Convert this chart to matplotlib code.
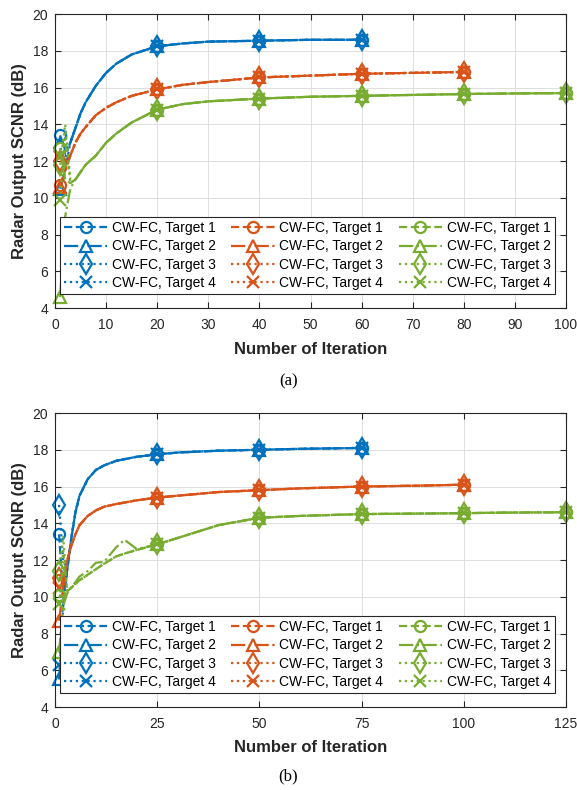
import matplotlib

matplotlib.use("Agg")

import matplotlib.pyplot as plt

BLUE = "#0072BD"
ORANGE = "#D95319"
GREEN = "#77AC30"

LABELS = ["CW-FC, Target 1", "CW-FC, Target 2", "CW-FC, Target 3", "CW-FC, Target 4"]

# ---- panel (a): shared curve per colour (None = taken from the per-target head)
A_X_BLUE = [1, 2, 3, 4, 5, 6, 8, 10, 12, 15, 20, 25, 30, 40, 50, 60]
A_BLUE_BASE = [None, None, 13.0, 13.8, 14.6, 15.2, 16.1, 16.8, 17.3, 17.8, 18.25, 18.4, 18.5, 18.55, 18.6, 18.6]
A_BLUE_HEAD = [[13.4, 12.6], [10.5, 11.5], [12.7, 12.4], [12.3, 12.2]]

A_X_ORANGE = [1, 2, 3, 4, 5, 6, 8, 10, 12, 15, 20, 25, 30, 40, 50, 60, 70, 80]
A_ORANGE_BASE = [None, None, 12.3, 13.0, 13.5, 13.85, 14.5, 14.9, 15.2, 15.55, 15.9, 16.15, 16.3, 16.55,
                 16.65, 16.75, 16.8, 16.85]
A_ORANGE_HEAD = [[10.7, 11.5], [10.6, 11.4], [12.0, 11.9], [12.2, 12.0]]

A_X_GREEN = [1, 2, 3, 4, 5, 6, 8, 10, 12, 15, 20, 25, 30, 40, 50, 60, 70, 80, 90, 100]
A_GREEN_BASE = [None, None, None, 11.0, 11.4, 11.8, 12.3, 13.0, 13.5, 14.1, 14.8, 15.1, 15.25, 15.4, 15.5,
                15.55, 15.6, 15.65, 15.68, 15.7]
A_GREEN_HEAD = [[12.7, 11.0, 10.8], [4.6, 9.0, 10.5], [11.8, 14.0, 11.0], [9.9, 13.5, 10.8]]

A_MARK_X = [1, 20, 40, 60, 80, 100]
A_XTICKS = [0, 10, 20, 30, 40, 50, 60, 70, 80, 90, 100]

# ---- panel (b)
B_X_BLUE = [1, 2, 3, 4, 5, 6, 8, 10, 12, 15, 20, 25, 30, 40, 50, 60, 75]
B_BLUE_BASE = [None, None, 11.5, 13.2, 14.6, 15.5, 16.4, 16.9, 17.15, 17.4, 17.62, 17.75, 17.85, 17.95,
               18.0, 18.05, 18.1]
B_BLUE_HEAD = [[13.4, 10.0], [5.5, 9.5], [15.0, 12.0], [6.3, 9.8]]

B_X_ORANGE = [1, 2, 3, 4, 5, 6, 8, 10, 12, 15, 20, 25, 30, 40, 50, 60, 75, 90, 100]
B_ORANGE_BASE = [None, None, 12.0, 12.8, 13.4, 13.9, 14.4, 14.7, 14.9, 15.05, 15.25, 15.4, 15.5, 15.7,
                 15.8, 15.9, 16.0, 16.05, 16.1]
B_ORANGE_HEAD = [[10.9, 11.0], [8.7, 10.5], [11.0, 11.2], [10.5, 11.0]]

B_X_GREEN = [1, 2, 3, 4, 5, 6, 8, 10, 12, 15, 17, 20, 25, 30, 40, 50, 60, 75, 90, 100, 110, 125]
B_GREEN_BASE = [None, None, 10.3, 10.5, 10.7, 10.9, 11.2, 11.5, 11.8, 12.2, 12.35, 12.55, 12.85, 13.2,
                13.9, 14.3, 14.4, 14.5, 14.53, 14.55, 14.58, 14.6]
B_GREEN_HEAD = [[10.1, 10.0], [7.0, 9.5, 10.2, 10.5, 10.8, 11.1, 11.4, 11.85, 11.9, 12.7, 13.1, 12.6],
                [11.4, 13.3], [9.6, 12.5]]

B_MARK_X = [1, 25, 50, 75, 100, 125]
B_XTICKS = [0, 25, 50, 75, 100, 125]

YTICKS = [4, 6, 8, 10, 12, 14, 16, 18, 20]

STYLES = [
    {"linestyle": "--", "marker": "o", "markersize": 8},
    {"linestyle": "-.", "marker": "^", "markersize": 9},
    {"linestyle": ":", "marker": "d", "markersize": 10},
    {"linestyle": ":", "marker": "x", "markersize": 8},
]

plt.rcParams["font.family"] = ["Liberation Sans", "DejaVu Sans"]


def draw_panel(ax, groups, marks, xticks, xmax):
    handles = []
    for color, xs, base, heads in groups:
        idx = [i for i, x in enumerate(xs) if x in marks]
        for style, head in zip(STYLES, heads):
            ys = list(head) + base[len(head):]
            (line,) = ax.plot(
                xs, ys, color=color, linewidth=1.6, markerfacecolor="none",
                markeredgewidth=1.6, markevery=idx, clip_on=False, **style,
            )
            handles.append(line)
    ax.set_xlim(0, xmax)
    ax.set_ylim(4, 20)
    ax.set_xticks(xticks)
    ax.set_yticks(YTICKS)
    ax.grid(True, color="#dedede", linewidth=0.7)
    ax.set_axisbelow(True)
    ax.tick_params(direction="in", length=4, width=0.8, top=True, right=True,
                   labelsize=10, colors="#262626")
    ax.tick_params(axis="x", pad=7)
    ax.tick_params(axis="y", pad=5)
    for sp in ax.spines.values():
        sp.set_color("#262626")
        sp.set_linewidth(0.8)
    ax.set_xlabel("Number of Iteration", fontsize=12, fontweight="bold", color="#262626", labelpad=7)
    ax.set_ylabel("Radar Output SCNR (dB)", fontsize=12, fontweight="bold", color="#262626", labelpad=4)
    leg = ax.legend(
        handles, LABELS * 3, ncol=3, loc="lower left", bbox_to_anchor=(0.01, 0.048, 0.968, 0.279),
        mode="expand", fontsize=10, handlelength=3.1, handletextpad=0.35, labelspacing=0.3,
        borderpad=0.3, borderaxespad=0, fancybox=False, framealpha=1, edgecolor="#262626",
    )
    leg.get_frame().set_linewidth(0.8)


def main():
    fig = plt.figure(figsize=(5.77, 7.9), dpi=100)
    ax_a = fig.add_axes([0.0953, 0.610, 0.8857, 0.3722])
    ax_b = fig.add_axes([0.0953, 0.105, 0.8857, 0.3722])

    draw_panel(ax_a, [
        (BLUE, A_X_BLUE, A_BLUE_BASE, A_BLUE_HEAD),
        (ORANGE, A_X_ORANGE, A_ORANGE_BASE, A_ORANGE_HEAD),
        (GREEN, A_X_GREEN, A_GREEN_BASE, A_GREEN_HEAD),
    ], A_MARK_X, A_XTICKS, 100)
    draw_panel(ax_b, [
        (BLUE, B_X_BLUE, B_BLUE_BASE, B_BLUE_HEAD),
        (ORANGE, B_X_ORANGE, B_ORANGE_BASE, B_ORANGE_HEAD),
        (GREEN, B_X_GREEN, B_GREEN_BASE, B_GREEN_HEAD),
    ], B_MARK_X, B_XTICKS, 125)

    fig.text(0.5, 1 - 381 / 790, "(a)", ha="center", va="center",
             family=["Liberation Serif", "DejaVu Serif"], fontsize=12)
    fig.text(0.5, 1 - 776 / 790, "(b)", ha="center", va="center",
             family=["Liberation Serif", "DejaVu Serif"], fontsize=12)

    fig.savefig("out.png", dpi=100)
    plt.close(fig)


if __name__ == "__main__":
    main()
